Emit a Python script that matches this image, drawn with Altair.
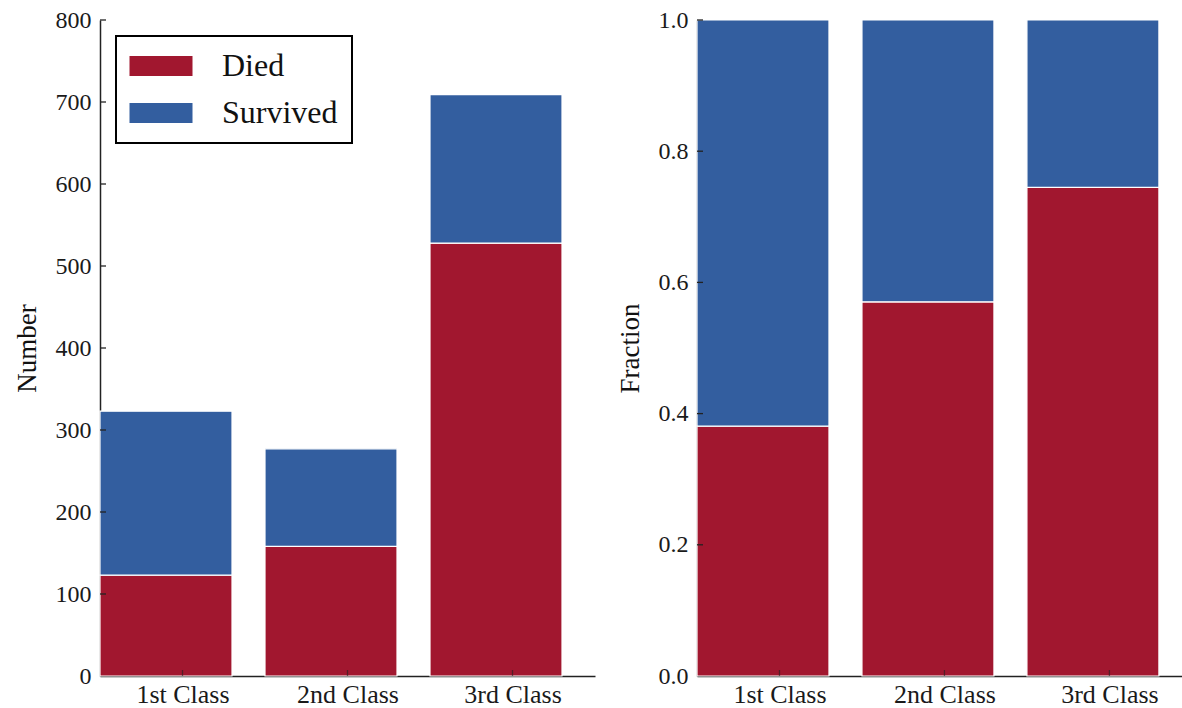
import altair as alt
import pandas as pd

# Passenger counts by class
classes = ["1st Class", "2nd Class", "3rd Class"]
died = [123, 158, 528]
survived = [200, 119, 181]
outcomes = ["Died", "Survived"]
colors = ["#A1172F", "#335E9F"]

count_ticks = [100, 200, 300, 400, 500, 600, 700, 800]
frac_ticks = [0.2, 0.4, 0.6, 0.8, 1.0]
class_ticks = [0.5, 1.5, 2.5]

FONT = "Liberation Serif"
AXIS_COLOR = "#222222"

rows = []
for i, name in enumerate(classes):
    total = died[i] + survived[i]
    rows.append(dict(cls=name, left=i, right=i + 0.8, outcome="Died",
                     n0=0, n1=died[i], f0=0.0, f1=died[i] / total))
    rows.append(dict(cls=name, left=i, right=i + 0.8, outcome="Survived",
                     n0=died[i], n1=total, f0=died[i] / total, f1=1.0))
bars_df = pd.DataFrame(rows)

label_expr = "[" + ",".join("'%s'" % c for c in classes) + "][floor(datum.value)]"

# wide flat swatch; path spans +-3 units so a small symbolSize keeps rows compact
SWATCH = "M-3,-0.95H3V0.95H-3Z"


def panel(lo, hi, ymax, yticks, title, width, xmax, show_legend):
    xscale = alt.Scale(domain=[0, xmax], nice=False, zero=False)
    yscale = alt.Scale(domain=[0, ymax], nice=False)
    x_axis = alt.Axis(values=class_ticks, labelExpr=label_expr, ticks=False,
                      grid=False, labelPadding=5, labelFontSize=26, title=None)
    y_axis = alt.Axis(values=[0] + yticks, ticks=False, grid=False,
                      labelPadding=9, title=title, titlePadding=14,
                      format=".1f" if ymax == 1 else "d")
    legend = (alt.Legend(title=None, orient="top-left", offset=16,
                         symbolType=SWATCH, symbolSize=441,
                         symbolOffset=15,
                         symbolStrokeWidth=0, labelFontSize=32, labelOffset=45,
                         rowPadding=15, padding=14, strokeColor="black",
                         labelFont=FONT, labelColor="#111111", fillColor="white")
              if show_legend else None)
    bars = alt.Chart(bars_df).mark_bar(stroke="white", strokeWidth=1.2).encode(
        x=alt.X("left:Q", scale=xscale, axis=x_axis),
        x2="right:Q",
        y=alt.Y(lo + ":Q", scale=yscale, axis=y_axis),
        y2=hi + ":Q",
        color=alt.Color("outcome:N",
                        scale=alt.Scale(domain=outcomes, range=colors),
                        legend=legend),
    )
    ytick_marks = alt.Chart(pd.DataFrame({"v": yticks})).mark_rule(
        color=AXIS_COLOR, strokeWidth=1.3).encode(
        y=alt.Y("v:Q", scale=yscale), x=alt.value(0), x2=alt.value(6))
    xtick_marks = alt.Chart(pd.DataFrame({"v": class_ticks})).mark_rule(
        color=AXIS_COLOR, strokeWidth=1.3, opacity=0.6).encode(
        x=alt.X("v:Q", scale=xscale), y=alt.value(656), y2=alt.value(650))
    return alt.layer(bars, ytick_marks, xtick_marks).properties(
        width=width, height=656)


left = panel("n0", "n1", 800, count_ticks, "Number", 495, 3.0, True)
right = panel("f0", "f1", 1.0, frac_ticks, "Fraction", 485, 2.94, False)

chart = alt.hconcat(left, right, spacing=21).resolve_legend(
    color="independent"
).configure(
    padding={"left": 13, "top": 8, "right": 0, "bottom": 0},
    font=FONT,
).configure_view(stroke=None).configure_axis(
    labelFont=FONT, titleFont=FONT, labelFontSize=24, titleFontSize=27,
    titleFontWeight="normal", labelColor="#1a1a1a", titleColor="#111111",
    domainColor=AXIS_COLOR, domainWidth=1.5,
).configure_legend(strokeWidth=2)

chart.save("out.html", embed_options={"renderer": "svg", "actions": False})
